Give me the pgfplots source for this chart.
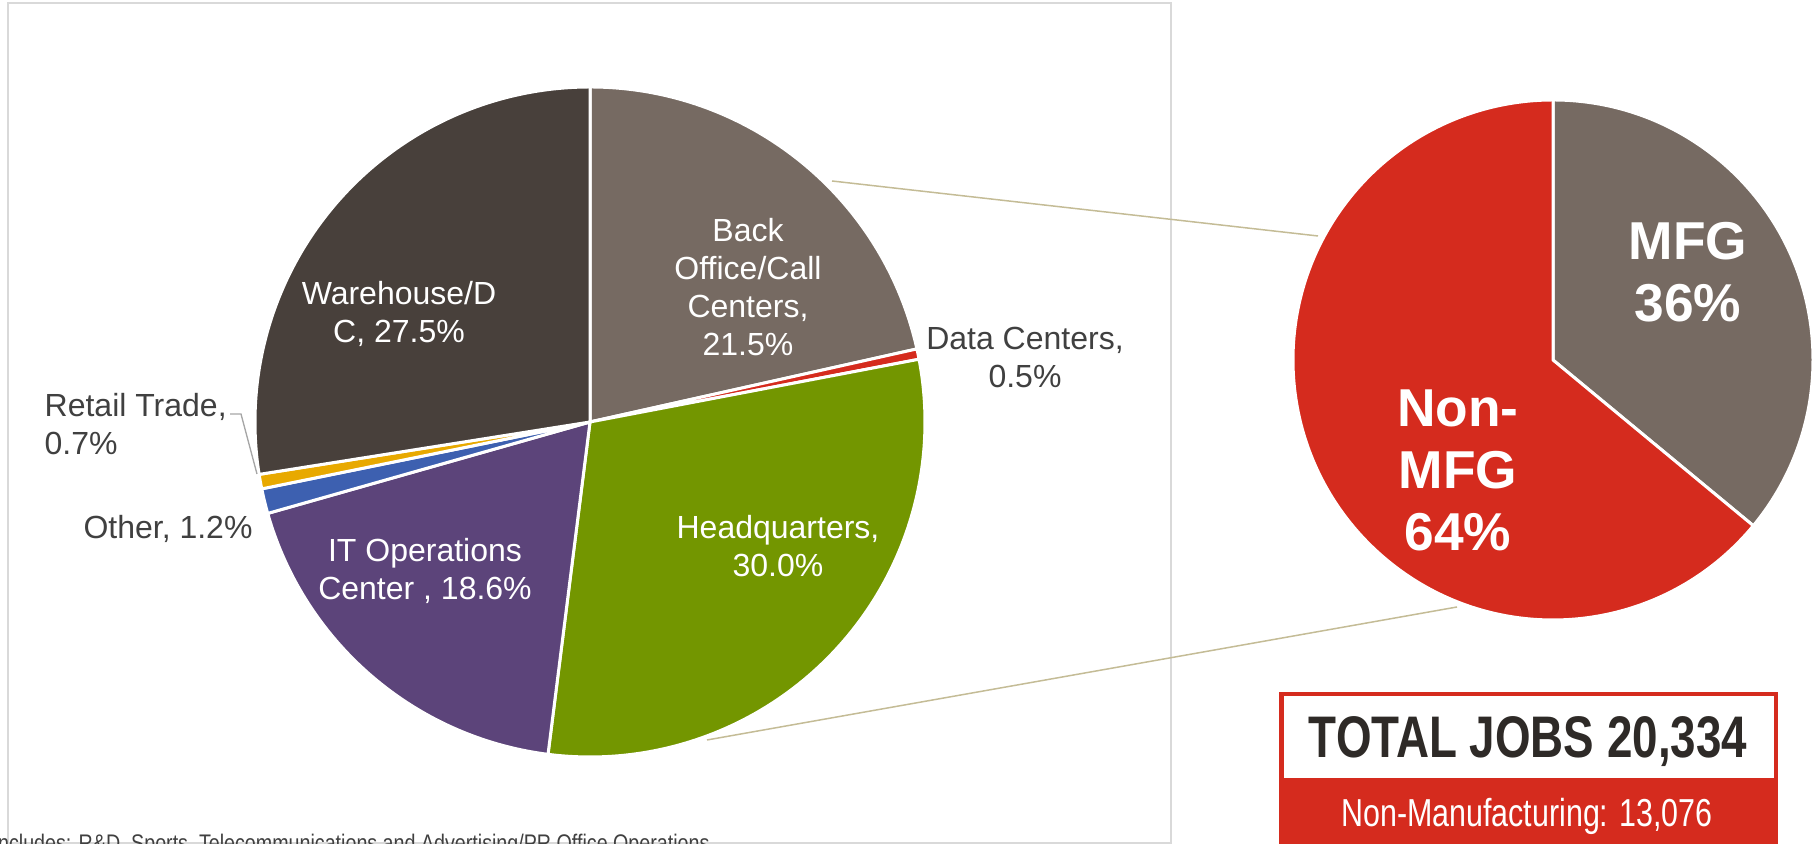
\documentclass[border=0pt]{standalone}
\usepackage{pgfplots}
\pgfplotsset{compat=1.18}
\usepackage{pgfplotstable}
\usepackage{fontspec}
\setmainfont{Liberation Sans}
\newfontfamily\cond[FakeStretch=0.78]{Liberation Sans}
\newfontfamily\condnote[FakeStretch=0.82]{Liberation Sans}

\definecolor{cBack}{RGB}{118,106,98}
\definecolor{cData}{RGB}{213,43,30}
\definecolor{cHQ}{RGB}{115,150,0}
\definecolor{cIT}{RGB}{92,68,122}
\definecolor{cOther}{RGB}{61,96,176}
\definecolor{cRetail}{RGB}{232,169,0}
\definecolor{cWare}{RGB}{72,64,59}
\definecolor{lbl}{RGB}{64,64,64}
\definecolor{tan}{RGB}{196,188,150}
\definecolor{frame}{RGB}{217,217,217}
\definecolor{ink}{RGB}{46,42,39}

% share of jobs, percent
\pgfplotstableread{
slice share color
BackOffice 21.5 cBack
DataCenters 0.5 cData
Headquarters 30.0 cHQ
ITOperations 18.6 cIT
Other 1.2 cOther
Retail 0.7 cRetail
Warehouse 27.5 cWare
}\jobsmix
\pgfplotstableread{
slice share color
MFG 36 cBack
NonMFG 64 cData
}\mfgmix

% start/end angle of every slice, clockwise from 12 o'clock
\newcommand\pieangles[3]{% table, prefix, last row
  \gdef\cum{0}%
  \foreach \i in {0,...,#3}{%
    \pgfplotstablegetelem{\i}{share}\of#1\let\v\pgfplotsretval
    \pgfmathsetmacro\aa{90-3.6*\cum}%
    \pgfmathsetmacro\nc{\cum+\v}%
    \pgfmathsetmacro\bb{90-3.6*\nc}%
    \expandafter\xdef\csname #2\i a\endcsname{\aa}%
    \expandafter\xdef\csname #2\i b\endcsname{\bb}%
    \pgfplotstablegetelem{\i}{color}\of#1%
    \expandafter\xdef\csname #2\i c\endcsname{\pgfplotsretval}%
    \xdef\cum{\nc}%
  }%
}

\newcommand\lab{\fontsize{9.6}{11.4}\selectfont}
\newcommand\biglab{\fontsize{16}{18.6}\selectfont\bfseries}

\begin{document}
\begin{tikzpicture}
\useasboundingbox (0,0) rectangle (543.9pt,253.2pt);
\pieangles{\jobsmix}{L}{6}
\pieangles{\mfgmix}{R}{1}
\begin{axis}[
  at={(0,0)}, anchor=south west,
  width=543.9pt, height=253.2pt, scale only axis,
  xmin=0, xmax=1813, ymin=0, ymax=844, y dir=reverse,
  hide axis, clip=false,
]
% chart frame
\draw[frame, line width=0.6pt] (axis cs:8,3) rectangle (axis cs:1171,843);

% connectors
\draw[tan, line width=0.45pt] (axis cs:832,181) -- (axis cs:1318,236);
\draw[tan, line width=0.45pt] (axis cs:707,740) -- (axis cs:1457,607);

% left pie
\pgfplotsinvokeforeach{0,...,6}{%
  \fill[fill=\csname L#1c\endcsname, draw=white, line width=0.9pt, line join=round]
    (axis cs:590,422) -- ++(\csname L#1a\endcsname:100.5pt)
    arc[start angle=\csname L#1a\endcsname, end angle=\csname L#1b\endcsname, radius=100.5pt] -- cycle;
}
% right pie
\pgfplotsinvokeforeach{0,1}{%
  \fill[fill=\csname R#1c\endcsname, draw=white, line width=0.9pt, line join=round]
    (axis cs:1553,360) -- ++(\csname R#1a\endcsname:78pt)
    arc[start angle=\csname R#1a\endcsname, end angle=\csname R#1b\endcsname, radius=78pt] -- cycle;
}

% labels on slices
\node[white, align=center, font=\lab] at (axis cs:748,287) {Back\\Office/Call\\Centers,\\21.5\%};
\node[white, align=center, font=\lab] at (axis cs:399,314) {Warehouse/D\\C, 27.5\%};
\node[white, align=center, font=\lab] at (axis cs:778,546) {Headquarters,\\30.0\%};
\node[white, align=center, font=\lab] at (axis cs:425,571) {IT Operations\\Center , 18.6\%};
% labels outside
\node[lbl, align=center, font=\lab] at (axis cs:1025,357) {Data Centers,\\0.5\%};
\node[lbl, align=center, font=\lab] at (axis cs:168,529) {Other, 1.2\%};
\node[lbl, align=left, font=\lab, anchor=west, inner sep=0pt] at (axis cs:44,424) {Retail Trade,\\0.7\%};
\draw[gray!70, line width=0.4pt] (axis cs:230,414) -- (axis cs:241,414) -- (axis cs:257,474);

\node[white, align=center, font=\biglab] at (axis cs:1688,272) {MFG\\36\%};
\node[white, align=center, font=\biglab] at (axis cs:1458,470) {Non-\\MFG\\64\%};

% total box
\fill[cData] (axis cs:1279,692) rectangle (axis cs:1778,870);
\fill[white] (axis cs:1283.5,696.5) rectangle (axis cs:1773.5,778);
\node[ink, anchor=base, inner sep=0pt, font=\fontsize{17.6}{20}\cond\bfseries] at (axis cs:1528,758) {TOTAL JOBS 20,334};
\node[white, anchor=base, inner sep=0pt, font=\fontsize{11.7}{14}\cond] at (axis cs:1527,827) {Non-Manufacturing: 13,076};

% footnote, cut by the lower edge as in the original
\node[lbl, anchor=base west, inner sep=0pt, font=\fontsize{7.2}{9}\condnote] at (axis cs:-8,852) {Includes: R\&D, Sports, Telecommunications and Advertising/PR Office Operations};
\end{axis}
\end{tikzpicture}
\end{document}
